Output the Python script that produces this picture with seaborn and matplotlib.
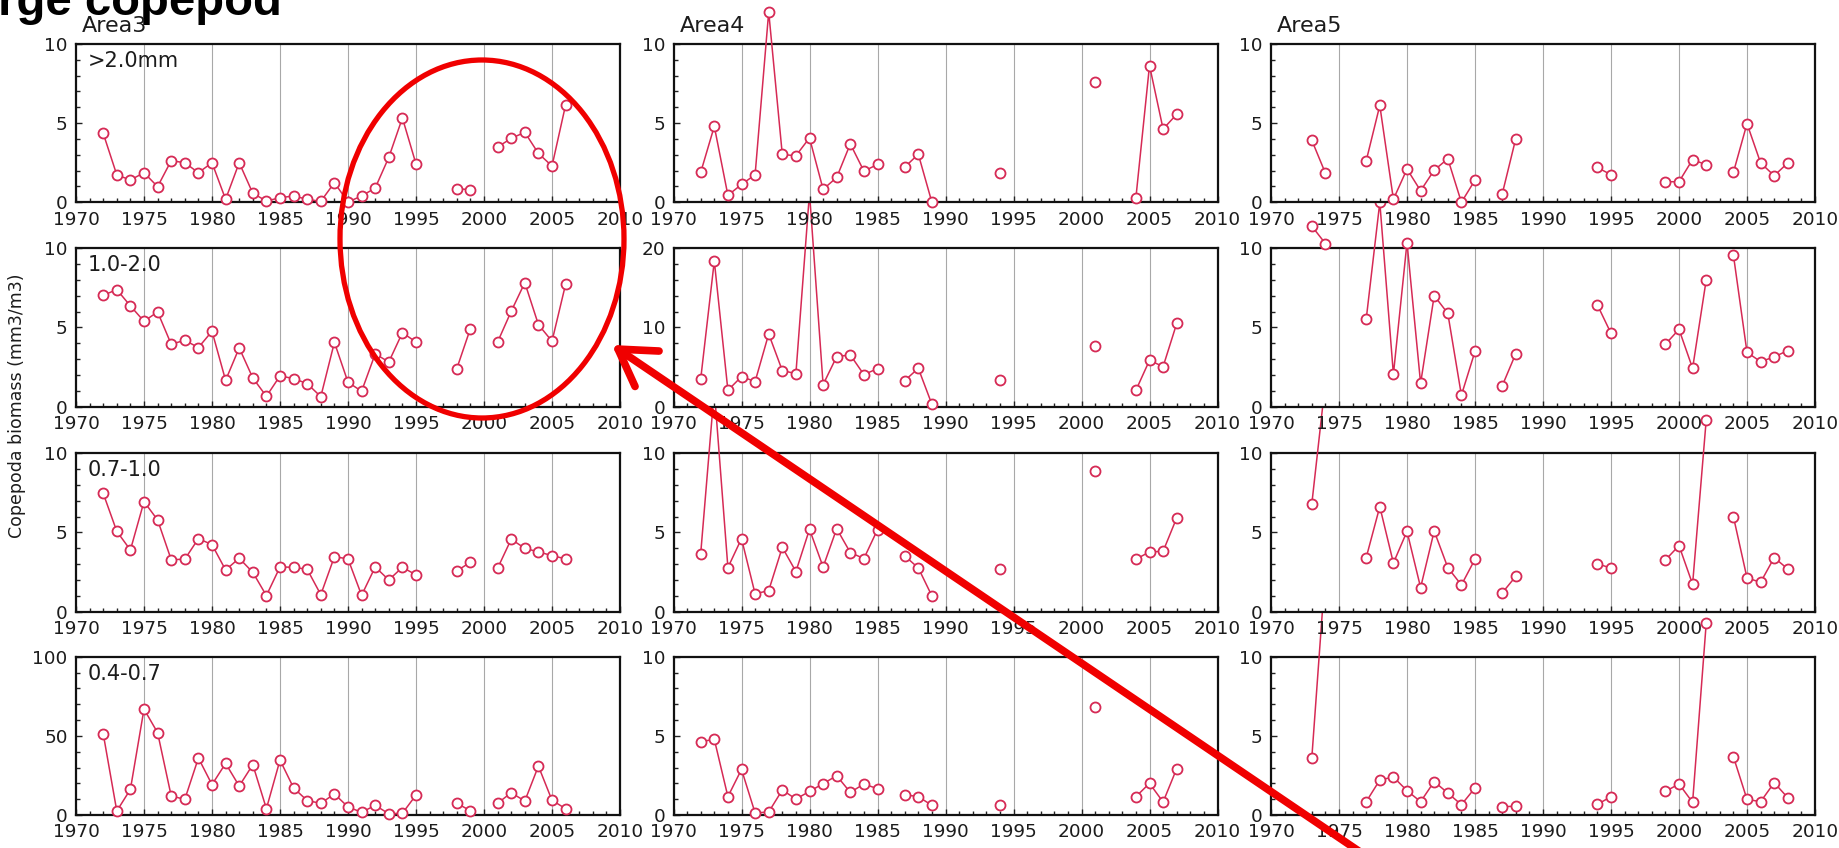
import numpy as np
import pandas as pd
import matplotlib
matplotlib.use("Agg")
import matplotlib.pyplot as plt
import seaborn as sns
from matplotlib.ticker import MultipleLocator, FixedLocator
from matplotlib.patches import Ellipse, FancyArrowPatch

nan = np.nan
years = list(range(1972, 2009))

areas = ["Area3", "Area4", "Area5"]
size_classes = [">2.0mm", "1.0-2.0", "0.7-1.0", "0.4-0.7"]

# Copepod biomass (mm3/m3) by size class, 1972-2008
area3_gt20 = [4.36, 1.73, 1.41, 1.87, 0.99, 2.63, 2.50, 1.87, 2.50,
              0.19, 2.50, 0.57, 0.08, 0.29, 0.40, 0.19, 0.06, 1.24, 0.02,
              0.40, 0.90, 2.84, 5.33, 2.42, nan, nan, 0.86, 0.80, nan,
              3.49, 4.04, 4.42, 3.09, 2.29, 6.15, nan, nan]
area3_10_20 = [7.03, 7.39, 6.36, 5.39, 5.98, 3.94, 4.19, 3.73, 4.76,
               1.66, 3.71, 1.81, 0.65, 1.94, 1.77, 1.45, 0.63, 4.06, 1.54,
               0.97, 3.33, 2.82, 4.67, 4.08, nan, nan, 2.40, 4.93, nan,
               4.08, 6.02, 7.83, 5.18, 4.13, 7.73, nan, nan]
area3_07_10 = [7.47, 5.07, 3.89, 6.95, 5.79, 3.28, 3.31, 4.61, 4.23,
               2.63, 3.37, 2.48, 1.01, 2.82, 2.80, 2.67, 1.07, 3.47, 3.33,
               1.03, 2.82, 2.00, 2.80, 2.32, nan, nan, 2.57, 3.12, nan,
               2.74, 4.57, 4.00, 3.77, 3.54, 3.33, nan, nan]
area3_04_07 = [51.4, 2.5, 16.2, 66.9, 52.0, 12.0, 9.9, 36.0, 19.2,
               32.6, 18.3, 31.8, 4.0, 34.7, 17.1, 9.1, 7.4, 13.3, 5.1,
               1.7, 6.1, 0.8, 1.1, 12.6, nan, nan, 7.4, 2.7, nan,
               7.4, 14.1, 8.8, 30.9, 9.3, 4.0, nan, nan]

area4_gt20 = [1.89, 4.80, 0.44, 1.13, 1.74, 12.03, 3.02, 2.94, 4.07,
              0.82, 1.57, 3.69, 1.97, 2.39, nan, 2.22, 3.04, 0.00, nan,
              nan, nan, nan, 1.82, nan, nan, nan, nan, nan, nan,
              7.57, nan, nan, 0.29, 8.64, 4.63, 5.56, nan]
area4_10_20 = [3.49, 18.4, 2.06, 3.79, 3.16, 9.18, 4.55, 4.17, 27.0,
               2.78, 6.32, 6.53, 4.04, 4.80, nan, 3.28, 4.84, 0.29, nan,
               nan, nan, nan, 3.33, nan, nan, nan, nan, nan, nan,
               7.70, nan, nan, 2.06, 5.85, 5.05, 10.5, nan]
area4_07_10 = [3.66, 14.0, 2.78, 4.61, 1.12, 1.33, 4.06, 2.53, 5.20,
               2.82, 5.24, 3.73, 3.35, 5.18, nan, 3.52, 2.76, 0.99, nan,
               nan, nan, nan, 2.67, nan, nan, nan, nan, nan, nan,
               8.86, nan, nan, 3.31, 3.77, 3.81, 5.92, nan]
area4_04_07 = [4.63, 4.78, 1.16, 2.88, 0.13, 0.19, 1.58, 1.01, 1.49,
               1.98, 2.48, 1.43, 1.96, 1.66, nan, 1.28, 1.16, 0.61, nan,
               nan, nan, nan, 0.61, nan, nan, nan, nan, nan, nan,
               6.84, nan, nan, 1.16, 2.00, 0.82, 2.93, nan]

area5_gt20 = [nan, 3.92, 1.84, nan, nan, 2.62, 6.12, 0.19, 2.10,
              0.73, 2.03, 2.75, 0.00, 1.40, nan, 0.52, 4.03, nan, nan,
              nan, nan, nan, 2.20, 1.74, nan, nan, nan, 1.30, 1.30,
              2.70, 2.37, nan, 1.89, 4.97, 2.49, 1.68, 2.49]
area5_10_20 = [nan, 11.4, 10.3, nan, nan, 5.52, 12.9, 2.04, 10.36,
               1.47, 7.01, 5.89, 0.72, 3.49, nan, 1.31, 3.35, nan, nan,
               nan, nan, nan, 6.42, 4.63, nan, nan, nan, 3.94, 4.88,
               2.42, 8.00, nan, 9.58, 3.43, 2.84, 3.14, 3.54]
area5_07_10 = [nan, 6.80, 14.5, nan, nan, 3.41, 6.63, 3.07, 5.07,
               1.52, 5.09, 2.78, 1.68, 3.31, nan, 1.18, 2.23, nan, nan,
               nan, nan, nan, 3.03, 2.74, nan, nan, nan, 3.26, 4.17,
               1.73, 12.1, nan, 6.00, 2.13, 1.85, 3.41, 2.69]
area5_04_07 = [nan, 3.60, 15.5, nan, nan, 0.84, 2.21, 2.40, 1.54,
               0.84, 2.11, 1.39, 0.65, 1.71, nan, 0.53, 0.55, nan, nan,
               nan, nan, nan, 0.67, 1.16, nan, nan, nan, 1.49, 1.96,
               0.80, 12.1, nan, 3.68, 0.99, 0.84, 2.04, 1.09]

series = [
    [area3_gt20, area4_gt20, area5_gt20],
    [area3_10_20, area4_10_20, area5_10_20],
    [area3_07_10, area4_07_10, area5_07_10],
    [area3_04_07, area4_04_07, area5_04_07],
]
y_max = [
    [10, 10, 10],
    [10, 20, 10],
    [10, 10, 10],
    [100, 10, 10],
]

RED = "#D62A55"
TXT = "#1c1c1c"

sns.set_theme(style="white")
plt.rcParams["font.family"] = ["DejaVu Sans"]
plt.rcParams["text.color"] = TXT
plt.rcParams["xtick.color"] = TXT
plt.rcParams["ytick.color"] = TXT

W, H = 1839, 848
fig = plt.figure(figsize=(W / 100, H / 100), dpi=100)
fig.patch.set_facecolor("white")

col_left = [76, 673.5, 1271]
row_top = [44, 248.3, 453.3, 656.7]
ax_w, ax_h = 544, 158.3


def to_frame(vals):
    """Year/value table with a segment id that breaks at missing years."""
    seg, cur, prev_nan = [], 0, True
    for v in vals:
        if np.isnan(v):
            prev_nan = True
            seg.append(-1)
        else:
            if prev_nan:
                cur += 1
            prev_nan = False
            seg.append(cur)
    df = pd.DataFrame({"year": years, "value": vals, "seg": seg})
    return df[df["seg"] >= 0]


for r in range(4):
    for c in range(3):
        ax = fig.add_axes([col_left[c] / W, 1 - (row_top[r] + ax_h) / H,
                           ax_w / W, ax_h / H])
        # upper rows sit above lower rows so off-scale spikes tuck under them
        ax.set_zorder(10 - r)
        ax.set_facecolor("white")
        df = to_frame(series[r][c])
        sns.lineplot(data=df, x="year", y="value", units="seg", estimator=None,
                     ax=ax, color=RED, lw=1.1, marker="o", ms=7.2,
                     mfc="white", mec=RED, mew=1.3, clip_on=False,
                     legend=False, zorder=5)
        ymax = y_max[r][c]
        ax.set_xlim(1970, 2010)
        ax.set_ylim(0, ymax)
        ax.xaxis.set_major_locator(MultipleLocator(5))
        ax.xaxis.set_minor_locator(MultipleLocator(1))
        ax.yaxis.set_major_locator(FixedLocator([0, ymax / 2, ymax]))
        ax.yaxis.set_minor_locator(MultipleLocator(ymax / 10))
        ax.set_yticklabels([f"{v:g}" for v in [0, ymax / 2, ymax]])
        ax.tick_params(axis="both", which="both", direction="in",
                       left=True, bottom=True, top=False, right=False,
                       labelsize=13.3, color="#222222", width=1.0)
        ax.tick_params(axis="both", which="major", length=4.5, pad=6)
        ax.tick_params(axis="both", which="minor", length=3)
        ax.grid(False)
        for x in range(1975, 2010, 5):
            ax.axvline(x, color="#a8a8a8", lw=0.8, zorder=0)
        for sp in ax.spines.values():
            sp.set_visible(True)
            sp.set_color("#111111")
            sp.set_linewidth(1.6)
        ax.set_xlabel("")
        ax.set_ylabel("")
        if r == 0:
            ax.text(0.011, 1 + 12 / ax_h, areas[c], transform=ax.transAxes,
                    fontsize=16, va="baseline", ha="left", color=TXT)
        if c == 0:
            ax.text(0.022, 0.955, size_classes[r], transform=ax.transAxes,
                    fontsize=15, va="top", ha="left", color=TXT, zorder=6)

fig.text(-57 / W, 1 - 15 / H, "Large copepod", fontsize=34,
         fontweight="bold", family=["Liberation Sans", "DejaVu Sans"],
         ha="left", va="baseline", color="black")
fig.text(17 / W, 1 - 406 / H, "Copepoda biomass (mm3/m3)", rotation=90,
         fontsize=12.5, ha="center", va="center", color=TXT)

# highlight of the recent Area3 period and pointer to it
ring = Ellipse((482 / W, 1 - 239 / H), 284 / W, 358 / H,
               transform=fig.transFigure, fill=False, edgecolor="#F00000",
               lw=3.8, zorder=100)
fig.add_artist(ring)
pointer = FancyArrowPatch((1372 / W, 1 - 860 / H), (612 / W, 1 - 345 / H),
                          transform=fig.transFigure,
                          arrowstyle="->,head_length=0.9,head_width=0.55",
                          mutation_scale=28, lw=5.5, color="#F00000",
                          shrinkA=0, shrinkB=0, zorder=100)
fig.add_artist(pointer)

fig.savefig("out.png", dpi=100, facecolor="white")
